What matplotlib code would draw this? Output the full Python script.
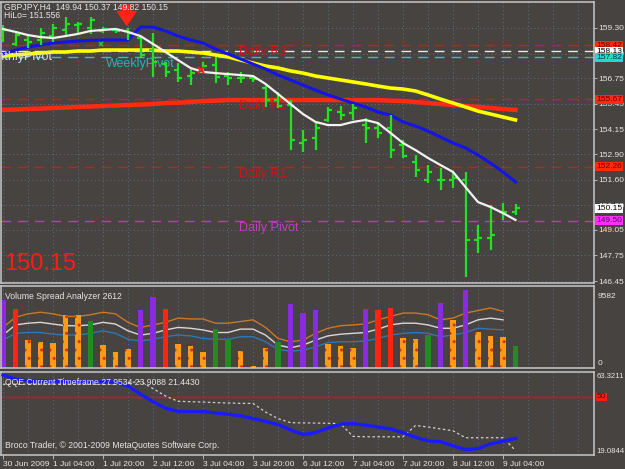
import matplotlib
matplotlib.use("Agg")
import matplotlib.pyplot as plt
import numpy as np

plt.rcParams["font.family"] = ["Liberation Sans", "DejaVu Sans"]

# ---- data (GBPJPY H4) ----
bars = np.arange(42)
opens = [158.79, 158.49, 158.69, 158.69, 158.89, 159.20, 159.45, 159.30, 159.15, 159.20,
         159.15, 158.79, 158.18, 157.47, 157.17, 156.86, 157.07, 157.42, 156.86, 156.76,
         156.76, 156.25, 155.64, 155.39, 153.46, 153.71, 154.63, 155.03, 154.98, 154.37,
         154.22, 154.22, 153.36, 152.49, 151.58, 151.58, 151.58, 151.58, 148.53, 148.63,
         149.95, 149.94]
highs = [159.45, 159.15, 158.89, 159.30, 159.50, 159.86, 159.60, 159.86, 159.35, 159.30,
         159.30, 158.89, 159.05, 157.57, 157.52, 157.27, 157.57, 157.83, 157.07, 157.07,
         156.86, 156.40, 156.05, 155.64, 154.12, 154.53, 155.29, 155.34, 155.44, 154.73,
         154.53, 154.88, 153.61, 152.85, 152.34, 152.19, 151.99, 151.99, 149.29, 150.31,
         150.41, 150.37]
lows = [158.59, 158.39, 158.28, 158.44, 158.59, 158.89, 159.05, 159.00, 159.05, 159.05,
        158.69, 157.83, 156.81, 156.81, 156.56, 156.40, 157.01, 156.51, 156.40, 156.51,
        156.56, 155.29, 155.24, 153.10, 153.00, 153.10, 154.53, 154.63, 154.63, 153.46,
        153.71, 152.70, 152.70, 151.73, 151.43, 151.07, 151.17, 146.65, 147.87, 148.02,
        149.55, 149.82]
closes = [159.20, 158.94, 158.59, 159.05, 159.30, 159.50, 159.50, 159.71, 159.25, 159.15,
          159.05, 157.93, 157.57, 157.07, 156.76, 157.01, 157.37, 156.81, 156.76, 156.76,
          156.71, 155.64, 155.34, 153.61, 153.61, 154.22, 155.14, 154.88, 155.24, 154.22,
          153.97, 153.10, 152.80, 152.09, 151.99, 151.58, 151.68, 148.53, 148.63, 148.79,
          149.95, 150.15]

ma_white = [159.25, 159.10, 158.94, 158.84, 158.79, 158.89, 159.00, 159.15, 159.20, 159.25,
            159.10, 158.89, 158.49, 158.08, 157.67, 157.27, 157.07, 157.01, 156.96, 156.91,
            156.86, 156.46, 155.95, 155.44, 154.93, 154.53, 154.37, 154.37, 154.53, 154.63,
            154.47, 153.97, 153.46, 153.10, 152.70, 152.34, 151.99, 151.22, 150.46, 150.21,
            149.90, 149.55]
ma_blue = [157.98, 158.18, 158.33, 158.44, 158.54, 158.59, 158.64, 158.67, 158.69, 158.69,
           158.69, 159.35, 159.35, 159.15, 158.89, 158.69, 158.54, 158.23, 157.98, 157.73,
           157.47, 157.22, 156.91, 156.66, 156.40, 156.15, 155.90, 155.69, 155.49, 155.29,
           155.03, 154.88, 154.53, 154.32, 154.07, 153.76, 153.46, 153.21, 152.85, 152.44,
           151.99, 151.48]
ma_yellow = [157.88, 157.93, 157.98, 158.03, 158.08, 158.08, 158.13, 158.13, 158.18, 158.18,
             158.18, 158.18, 158.18, 158.13, 158.13, 158.08, 158.03, 157.93, 157.83, 157.67,
             157.52, 157.37, 157.27, 157.12, 157.01, 156.86, 156.76, 156.66, 156.56, 156.46,
             156.35, 156.25, 156.20, 156.10, 155.90, 155.69, 155.49, 155.29, 155.08, 154.93,
             154.78, 154.63]
ma_red = [155.14, 155.16, 155.19, 155.21, 155.24, 155.26, 155.29, 155.31, 155.34, 155.36,
          155.39, 155.41, 155.44, 155.49, 155.51, 155.54, 155.59, 155.61, 155.64, 155.64,
          155.64, 155.64, 155.64, 155.64, 155.64, 155.64, 155.64, 155.64, 155.64, 155.64,
          155.64, 155.61, 155.59, 155.54, 155.49, 155.44, 155.39, 155.34, 155.29, 155.24,
          155.19, 155.14]

levels = [158.42, 158.13, 157.82, 155.67, 152.26, 149.50]
level_names = ["Daily R3", "MonthlyPivot", "WeeklyPivot", "Daily R2", "Daily R1", "Daily Pivot"]
price_ticks = [159.30, 158.00, 156.75, 155.45, 154.15, 152.90, 151.60, 150.30, 149.05, 147.75, 146.45]

volumes = [8050, 6980, 3310, 3080, 2960, 6270, 6270, 5560, 2720, 1890, 2250, 6860, 8400, 6980,
           2840, 2600, 1890, 4610, 3430, 2010, 240, 2370, 3080, 7570, 6510, 6860, 2840, 2600,
           2370, 6980, 6860, 7100, 3550, 3430, 3900, 7690, 5680, 9230, 4260, 3790, 3670, 2600]
vol_kind = "PROOOOOGOOOPPROOOGGOOOGPPPOOOPRROOGPOPOOOG"
vol_upper = [4800, 6000, 6400, 6600, 6400, 6100, 6100, 6300, 6600, 6400, 5400, 4800, 5100, 5400,
             5900, 5800, 5800, 5300, 5300, 5500, 5700, 4800, 3500, 3100, 3300, 4100, 4700, 5000,
             5100, 5200, 5700, 6100, 6500, 6500, 6300, 5700, 5900, 6500, 6800, 7100, 6700]
vol_mid = [3900, 5100, 5300, 5400, 5200, 5000, 5000, 5100, 5400, 5200, 4400, 3900, 4100, 4500,
           4800, 4700, 4500, 4200, 4200, 4600, 4600, 3900, 2700, 2400, 2700, 3300, 3800, 4000,
           4100, 4200, 4600, 5100, 5300, 5300, 5100, 4700, 4700, 5100, 5700, 5900, 5700]
vol_lower = [3300, 4100, 4200, 4200, 4000, 3900, 3900, 4100, 4400, 4100, 3400, 3200, 3400, 3700,
             3900, 3800, 3500, 3400, 3400, 3700, 3700, 3100, 2200, 2000, 2100, 2500, 3000, 3100,
             3100, 3200, 3500, 3900, 4100, 4200, 4100, 3700, 3900, 4200, 4700, 4600, 4500]

qqe_rsi = [61.7, 59.5, 58.5, 58.5, 58.3, 58.2, 58.2, 58.1, 58.0, 57.9, 55.8, 51.5, 47.5, 44.0,
           42.3, 42.3, 42.3, 41.5, 40.8, 40.0, 38.5, 37.0, 35.3, 32.5, 30.0, 31.0, 33.5, 35.5,
           35.8, 35.0, 34.0, 33.0, 31.0, 28.5, 26.6, 26.2, 24.0, 22.0, 22.5, 25.0, 26.5, 27.95]
qqe_trail = [56.8, 56.8, 56.8, 56.8, 56.8, 56.8, 56.8, 56.8, 56.8, 56.8, 57.5, 58.3, 54.5, 50.5,
             47.7, 47.5, 47.3, 47.0, 46.8, 46.6, 46.6, 42.0, 38.5, 36.3, 36.2, 36.1, 36.0, 35.8,
             29.0, 28.8, 28.8, 28.8, 28.8, 34.8, 34.0, 33.0, 32.0, 28.3, 28.3, 28.3, 28.3, 21.5]

tick_pos = [0, 4, 8, 12, 16, 20, 24, 28, 32, 36, 40]
tick_labels = ["30 Jun 2009", "1 Jul 04:00", "1 Jul 20:00", "2 Jul 12:00", "3 Jul 04:00",
               "3 Jul 20:00", "6 Jul 12:00", "7 Jul 04:00", "7 Jul 20:00", "8 Jul 12:00",
               "9 Jul 04:00"]

# ---- style ----
BG = "#474340"
GRID = "#5f6f92"
FG = "#e6e6e6"
GREEN = "#22e022"
W, H = 625, 469


def rect(x0, y0, x1, y1):
    return [x0 / W, 1 - y1 / H, (x1 - x0) / W, (y1 - y0) / H]


fig = plt.figure(figsize=(6.25, 4.69), dpi=100)
fig.patch.set_facecolor(BG)
ax = fig.add_axes(rect(1, 2, 594, 283))
axv = fig.add_axes(rect(1, 286, 594, 368), sharex=ax)
axq = fig.add_axes(rect(1, 372, 594, 455), sharex=ax)

for a in (ax, axv, axq):
    a.set_facecolor(BG)
    for s in a.spines.values():
        s.set_color("#c8c8c8")
        s.set_linewidth(1.1)
    for gx in range(0, 48, 2):
        a.axvline(gx, color=GRID, lw=0.7, ls=(0, (1, 3)), zorder=0.5)
    a.tick_params(colors="#c8c8c8", labelcolor=FG, labelsize=6.0, length=2, width=0.6)
ax.set_xlim(-0.16, 47.28)

# ---- main price window ----
ax.set_ylim(146.35, 160.62)
ax.yaxis.tick_right()
ax.set_yticks(price_ticks)
ax.set_yticklabels([f"{p:.2f}" for p in price_ticks])
ax.tick_params(axis="y", pad=1)
ax.tick_params(axis="x", labelbottom=False, length=0)
for p in price_ticks:
    ax.axhline(p, color=GRID, lw=0.7, ls=(0, (1, 3)), zorder=0.5)

lvl_colors = ["#d81818", "#e8e8e8", "#20c8c8", "#d81818", "#d81818", "#e020e0"]
txt_colors = ["#c81818", "#e0e0e0", "#22b4b4", "#c81818", "#c81818", "#c43cc4"]
for lv, c in zip(levels, lvl_colors):
    ax.axhline(lv, color=c, lw=1.0, ls=(0, (7, 5)), zorder=1)
for name, lv, c in zip(level_names, levels, txt_colors):
    if name == "MonthlyPivot":
        ax.text(3.9, lv - 0.02, name, color=c, fontsize=9, ha="right", va="top", zorder=2.5)
    elif name == "WeeklyPivot":
        ax.text(8.25, lv - 0.02, name, color=c, fontsize=9, ha="left", va="top", zorder=2.5)
    else:
        ax.text(18.9, lv - 0.05, name, color=c, fontsize=9, ha="left", va="top", zorder=2.5)

ax.plot(bars, ma_red, color="#ff2a10", lw=3.2, zorder=2)
ax.plot(bars, ma_yellow, color="#ffff00", lw=2.6, zorder=2.1)
ax.plot(bars, ma_blue, color="#1414e6", lw=2.2, zorder=2.2)

b = np.asarray(bars)
ax.vlines(b, lows, highs, color=GREEN, lw=1.6, zorder=3)
ax.hlines(opens, b - 0.32, b, color=GREEN, lw=1.6, zorder=3)
ax.hlines(closes, b, b + 0.32, color=GREEN, lw=1.6, zorder=3)

ax.plot(bars, ma_white, color="#f2f2f2", lw=1.6, zorder=3.5)

ax.plot(7.8, 158.49, marker="x", color="#30c030", ms=3.5, mew=1.2, zorder=4)
ax.plot(15.8, 157.17, marker="x", color="#ff2020", ms=4.5, mew=1.6, zorder=4)
ax.annotate("", xy=(9.9, 159.30), xytext=(9.9, 160.6),
            arrowprops=dict(arrowstyle="simple,head_width=1.2,head_length=0.9,tail_width=0.55",
                            color="#ff2418", mutation_scale=11), zorder=4)

box_vals = [158.42, 158.13, 157.82, 155.67, 152.26, 150.15, 149.50]
box_fc = ["#ff2a10", "#ffffff", "#20d8d8", "#ff2a10", "#ff2a10", "#ffffff", "#ff30ff"]
box_tc = ["#6a0000", "#000000", "#003838", "#6a0000", "#6a0000", "#000000", "#5a005a"]
yax = ax.get_yaxis_transform()
for v, fc, tc in zip(box_vals, box_fc, box_tc):
    ax.text(1.004, v, f"{v:.2f}", transform=yax, fontsize=6.0, color=tc, ha="left",
            va="center", clip_on=False, zorder=6,
            bbox=dict(boxstyle="square,pad=0.12", fc=fc, ec="none"))

fig.text(4 / W, 1 - 7 / H, "GBPJPY,H4  149.94 150.37 149.82 150.15", color=FG,
         fontsize=6.2, va="center")
fig.text(4 / W, 1 - 16 / H, "HiLo= 151.556", color=FG, fontsize=6.2, va="center")
fig.text(4 / W, 1 - 264 / H, "150.15", color="#ff1a1a", fontsize=17, va="center")

# ---- volume window ----
kind_color = {"P": "#8a2be2", "R": "#ff2410", "O": "#ff9a14", "G": "#228b22"}
for i, (v, k) in enumerate(zip(volumes, vol_kind)):
    if k == "O":
        axv.bar(i, v, width=0.42, color=kind_color[k], edgecolor="#d83010", lw=0,
                hatch="..", zorder=2)
    else:
        axv.bar(i, v, width=0.42, color=kind_color[k], lw=0, zorder=2)
vb = bars[:len(vol_upper)]
axv.plot(vb, vol_upper, color="#c87828", lw=1.0, zorder=1.5)
axv.plot(vb, vol_mid, color="#d8d8d8", lw=1.0, zorder=1.5)
axv.plot(vb, vol_lower, color="#2e78b0", lw=1.0, zorder=1.5)
axv.set_ylim(0, 9700)
axv.set_yticks([])
axv.tick_params(axis="x", labelbottom=False, length=0)
axv.text(1.006, 0.866, "9582", transform=axv.transAxes, color=FG, fontsize=6.0, va="center",
         clip_on=False)
axv.text(1.006, 0.05, "0", transform=axv.transAxes, color=FG, fontsize=6.0, va="center",
         clip_on=False)
axv.text(0.007, 0.93, "Volume Spread Analyzer 2612", transform=axv.transAxes, color=FG,
         fontsize=6.2, va="top")

# ---- QQE window ----
axq.set_ylim(19.0844, 63.3211)
axq.axhline(50, color="#ff0000", lw=1.0, zorder=1)
axq.plot(bars, qqe_trail, color="#d0d0d0", lw=0.9, ls=(0, (2, 2)), zorder=2)
axq.plot(bars, qqe_rsi, color="#1a1aff", lw=2.4, zorder=3)
axq.set_yticks([])
axq.text(1.004, 0.95, "63.3211", transform=axq.transAxes, color=FG, fontsize=5.6,
         va="center", clip_on=False)
axq.text(1.004, 0.04, "19.0844", transform=axq.transAxes, color=FG, fontsize=5.6,
         va="center", clip_on=False)
qax = axq.get_yaxis_transform()
axq.text(1.005, 50, "50", transform=qax, color="#6a0000", fontsize=6.0, va="center",
         clip_on=False, bbox=dict(boxstyle="square,pad=0.1", fc="#ff1a1a", ec="none"))
axq.text(0.007, 0.93, "QQE Current Timeframe 27.9534 23.9088 21.4430", transform=axq.transAxes,
         color=FG, fontsize=6.2, va="top")
axq.text(0.007, 0.06, "Broco Trader, \u00a9 2001-2009 MetaQuotes Software Corp.",
         transform=axq.transAxes, color=FG, fontsize=6.2, va="bottom")
axq.set_xticks(tick_pos)
axq.set_xticklabels(tick_labels, ha="left")
axq.tick_params(axis="x", pad=1.5, length=3)

fig.savefig("out.png", dpi=100, facecolor=BG)
